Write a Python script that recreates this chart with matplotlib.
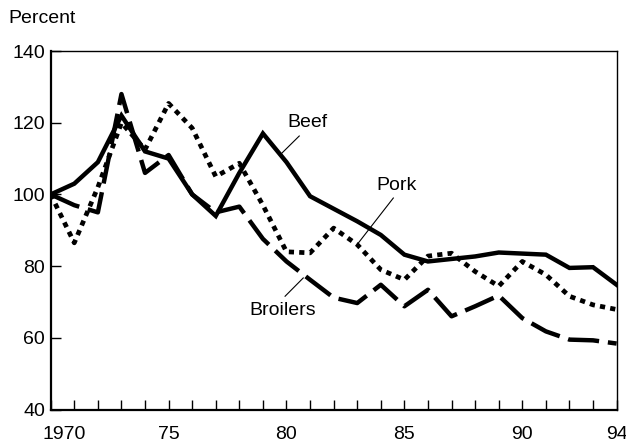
import matplotlib.pyplot as plt
from matplotlib.transforms import ScaledTranslation

plt.rcParams['font.family'] = ['Liberation Sans', 'DejaVu Sans']

years = list(range(1970, 1995))

# Real prices, percent of 1970
beef = [100, 103, 109, 122, 112, 110, 100, 94, 106, 117, 109, 99.5, 96, 92.5,
        88.7, 83.2, 81.3, 82, 82.7, 83.8, 83.5, 83.2, 79.5, 79.7, 74.8]
pork = [100, 86.5, 102, 120, 112.5, 125.4, 118.5, 105, 108.7, 97, 84, 83.7, 90.6, 86,
        79, 76.2, 82.8, 83.6, 78.5, 74.4, 81.3, 77.6, 71.6, 69.2, 67.9]
broilers = [100, 97, 95, 128, 106, 111, 100, 95, 96.6, 87.6, 81.3, 76.2, 71.2, 69.7,
            74.8, 68.8, 73.4, 66, 68.8, 71.8, 65.5, 61.8, 59.5, 59.3, 58.4]

tick_years = [1970, 1975, 1980, 1985, 1990, 1994]
tick_labels = ['1970', '75', '80', '85', '90', '94']

fs = 14

fig = plt.figure(figsize=(6.26, 4.42), dpi=100)
ax = fig.add_axes([0.081, 0.0735, 0.904, 0.811])

ax.plot(years, broilers, color='black', lw=3.2, linestyle=(0, (7, 2)))
ax.plot(years, pork, color='black', lw=3.4, linestyle=(0, (1.1, 1.1)))
ax.plot(years, beef, color='black', lw=3.2, solid_joinstyle='miter')

ax.set_xlim(1970, 1994)
ax.set_ylim(40, 140)
ax.set_yticks([40, 60, 80, 100, 120, 140])
ax.set_xticks(years)
ax.set_xticklabels([tick_labels[tick_years.index(y)] if y in tick_years else '' for y in years])
ax.tick_params(direction='in', length=7, width=1, labelsize=fs)
ax.tick_params(axis='x', pad=12)
ax.tick_params(axis='y', pad=4)

# "1970" sits to the right of its tick in the original
first = ax.get_xticklabels()[0]
first.set_transform(first.get_transform() + ScaledTranslation(10 / 72, 0, fig.dpi_scale_trans))

for side in ['left', 'bottom']:
    ax.spines[side].set_linewidth(1.6)
for side in ['top', 'right']:
    ax.spines[side].set_linewidth(1.0)

# Series labels with leader lines
ax.text(1980.9, 120.1, 'Beef', fontsize=fs, ha='center', va='center')
ax.plot([1980.54, 1979.8], [116.3, 111.5], color='black', lw=0.8)
ax.text(1984.65, 102.5, 'Pork', fontsize=fs, ha='center', va='center')
ax.plot([1984.53, 1983.04], [99.0, 86.4], color='black', lw=0.8)
ax.text(1979.85, 67.6, 'Broilers', fontsize=fs, ha='center', va='center')
ax.plot([1979.94, 1980.71], [71.6, 76.7], color='black', lw=0.8)

fig.text(0.013, 0.958, 'Percent', fontsize=fs, ha='left', va='center')

plt.savefig('out.png', dpi=100)
